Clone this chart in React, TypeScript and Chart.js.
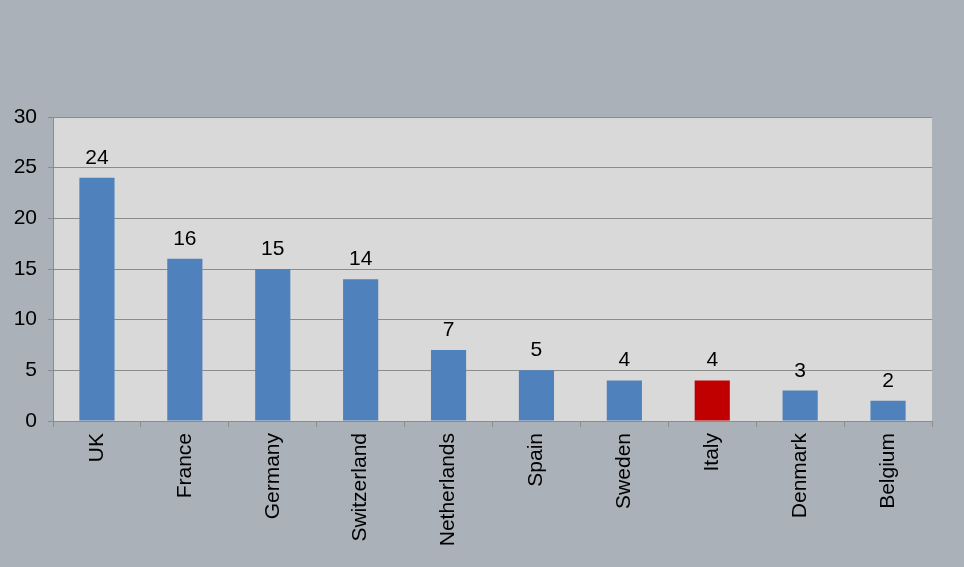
import React, { useEffect, useRef } from "react";
import { Chart, registerables } from "chart.js";

Chart.register(...registerables);

const categories = ["UK", "France", "Germany", "Switzerland", "Netherlands", "Spain", "Sweden", "Italy", "Denmark", "Belgium"];
const values = [24, 16, 15, 14, 7, 5, 4, 4, 3, 2];
const highlighted = ["Italy"];
const yTicks = [0, 5, 10, 15, 20, 25, 30];

const BLUE = "#4F81BD";
const RED = "#C00000";
const PAGE_BG = "#AAB1B8";
const PLOT_BG = "#D9D9D9";
const GRID = "#8C8C8C";
const FONT = "'Liberation Sans', Arial, sans-serif";

const bgPlugin = {
  id: "bgPlugin",
  beforeDraw(chart: any) {
    const { ctx, chartArea } = chart;
    ctx.save();
    ctx.fillStyle = PAGE_BG;
    ctx.fillRect(0, 0, chart.width, chart.height);
    ctx.fillStyle = PLOT_BG;
    ctx.fillRect(chartArea.left, chartArea.top, chartArea.right - chartArea.left, chartArea.bottom - chartArea.top);
    ctx.restore();
  },
};

const labelPlugin = {
  id: "labelPlugin",
  afterDatasetsDraw(chart: any) {
    const { ctx } = chart;
    const meta = chart.getDatasetMeta(0);
    ctx.save();
    ctx.fillStyle = "#000";
    ctx.font = `21px ${FONT}`;
    ctx.textAlign = "center";
    ctx.textBaseline = "alphabetic";
    meta.data.forEach((bar: any, i: number) => {
      ctx.fillText(String(values[i]), bar.x, bar.y - 14);
    });
    ctx.restore();
  },
};

export default function App() {
  const ref = useRef<HTMLCanvasElement>(null);
  useEffect(() => {
    if (!ref.current) return;
    const chart = new Chart(ref.current, {
      type: "bar",
      data: {
        labels: categories,
        datasets: [
          {
            data: values,
            backgroundColor: categories.map((c) => (highlighted.includes(c) ? RED : BLUE)),
            barPercentage: 0.4,
            categoryPercentage: 1,
          },
        ],
      },
      options: {
        responsive: false,
        animation: false,
        devicePixelRatio: 1,
        layout: { padding: { left: 0, right: 32, top: 117, bottom: 0 } },
        plugins: { legend: { display: false }, tooltip: { enabled: false } },
        scales: {
          x: {
            offset: true,
            grid: { offset: true, drawOnChartArea: false, drawTicks: true, tickLength: 6, color: GRID },
            border: { display: true, color: GRID },
            ticks: {
              minRotation: 90,
              maxRotation: 90,
              autoSkip: false,
              padding: 6,
              color: "#000",
              font: { family: FONT, size: 21 },
            },
            afterFit: (s: any) => {
              s.height = 146;
            },
          },
          y: {
            min: 0,
            max: 30,
            afterBuildTicks: (s: any) => {
              s.ticks = yTicks.map((v) => ({ value: v }));
            },
            grid: { color: GRID, tickLength: 5, drawTicks: true },
            border: { display: true, color: GRID },
            ticks: {
              padding: 11,
              color: "#000",
              font: { family: FONT, size: 21 },
            },
            afterFit: (s: any) => {
              s.width = 53;
            },
          },
        },
      },
      plugins: [bgPlugin, labelPlugin],
    });
    return () => chart.destroy();
  }, []);
  return (
    <div style={{ position: "fixed", left: 0, top: 0, width: 964, height: 567, background: PAGE_BG }}>
      <canvas ref={ref} width={964} height={567} style={{ width: 964, height: 567, display: "block" }} />
    </div>
  );
}
